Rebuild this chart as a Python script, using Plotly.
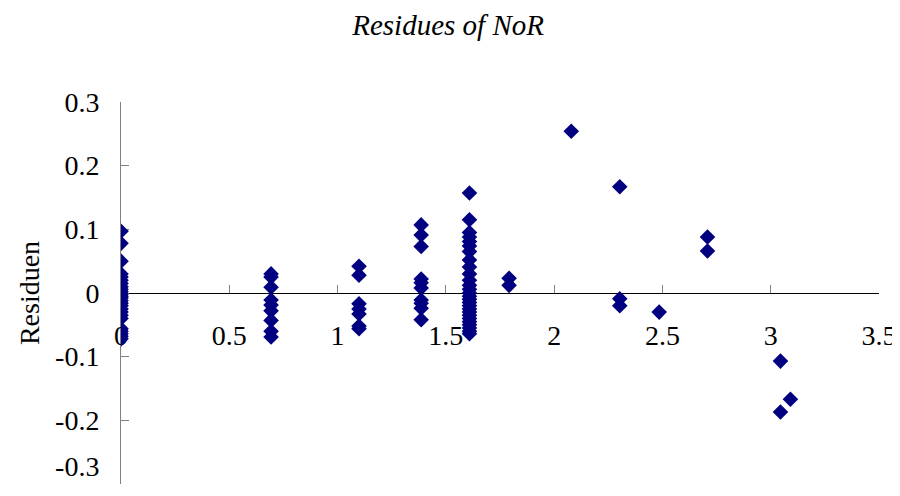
import plotly.graph_objects as go

# x values (ln of counts) and residues
x0 = 0.0
r0 = [0.097, 0.078, 0.050, 0.030, 0.025, 0.020, 0.015, 0.010, 0.006, 0.002, -0.002,
      -0.005, -0.008, -0.012, -0.016, -0.020, -0.025, -0.030, -0.035, -0.040,
      -0.056, -0.060, -0.064, -0.068, -0.072]
x1 = 0.693
r1 = [0.030, 0.025, 0.009, -0.011, -0.019, -0.028, -0.043, -0.060, -0.069]
x2 = 1.099
r2 = [0.042, 0.028, -0.017, -0.025, -0.033, -0.052, -0.056]
x3 = 1.386
r3 = [0.107, 0.091, 0.073, 0.022, 0.016, 0.008, -0.011, -0.016, -0.024, -0.042]
x4 = 1.609
r4 = [0.157, 0.115, 0.095, 0.088, 0.081, 0.074, 0.065, 0.052, 0.041, 0.030, 0.020,
      0.012, 0.006, 0.0, -0.005, -0.010, -0.015, -0.020, -0.025, -0.030, -0.035,
      -0.040, -0.045, -0.050, -0.055, -0.060, -0.064]
x5 = 1.792
r5 = [0.023, 0.012]
x6 = 2.079
r6 = [0.254]
x7 = 2.303
r7 = [0.167, -0.009, -0.020]
x8 = 2.485
r8 = [-0.030]
x9 = 2.708
r9 = [0.088, 0.066]
x10 = 3.045
r10 = [-0.107, -0.187]
x11 = 3.091
r11 = [-0.167]

groups = [(x0, r0), (x1, r1), (x2, r2), (x3, r3), (x4, r4), (x5, r5), (x6, r6),
          (x7, r7), (x8, r8), (x9, r9), (x10, r10), (x11, r11)]

xs, ys = [], []
for gx, gr in groups:
    xs += [gx] * len(gr)
    ys += gr

y_tickvals = [0.3, 0.2, 0.1, 0, -0.1, -0.2, -0.3]
y_ticktext = ["0.3", "0.2", "0.1", "0", "-0.1", "-0.2", "-0.3<br>&nbsp;"]
x_tickvals = [0, 0.5, 1, 1.5, 2, 2.5, 3, 3.5]
x_ticktext = ["0", "0.5", "1", "1.5", "2", "2.5", "3", "3.5"]

font_family = "Liberation Serif, Times New Roman, serif"

fig = go.Figure(go.Scatter(
    x=xs, y=ys, mode="markers",
    marker=dict(symbol="diamond", size=12, color="#000080"),
    showlegend=False,
))

fig.update_layout(
    template="none",
    width=900, height=496,
    margin=dict(l=113, r=29, t=94, b=20),
    paper_bgcolor="white", plot_bgcolor="white",
    font=dict(family=font_family, size=28, color="black"),
    title=dict(text="<i>Residues of NoR</i>", x=0.489, xanchor="center",
               y=1 - 17 / 496, yanchor="middle",
               font=dict(family=font_family, size=29, color="black")),
    xaxis=dict(range=[0, 3.5], tickvals=x_tickvals, ticktext=x_ticktext,
               anchor="free", position=0.5, showline=True, linecolor="black",
               linewidth=1, ticks="inside", ticklen=8, tickcolor="#808080",
               showgrid=False, zeroline=False, layer="below traces",
               automargin=False, ticklabeloverflow="allow",
               tickfont=dict(family=font_family, size=28),
               ticklabelstandoff=17),
    yaxis=dict(range=[-0.3, 0.3], tickvals=y_tickvals, ticktext=y_ticktext,
               showline=True, linecolor="#808080", linewidth=1, ticks="inside",
               ticklen=8, tickcolor="#808080", showgrid=False, zeroline=False,
               layer="below traces", ticklabelstandoff=15, automargin=False,
               ticklabeloverflow="allow",
               tickfont=dict(family=font_family, size=28),
               title=dict(text="Residuen", standoff=7,
                          font=dict(family=font_family, size=28))),
)

fig.write_html("out.html")
